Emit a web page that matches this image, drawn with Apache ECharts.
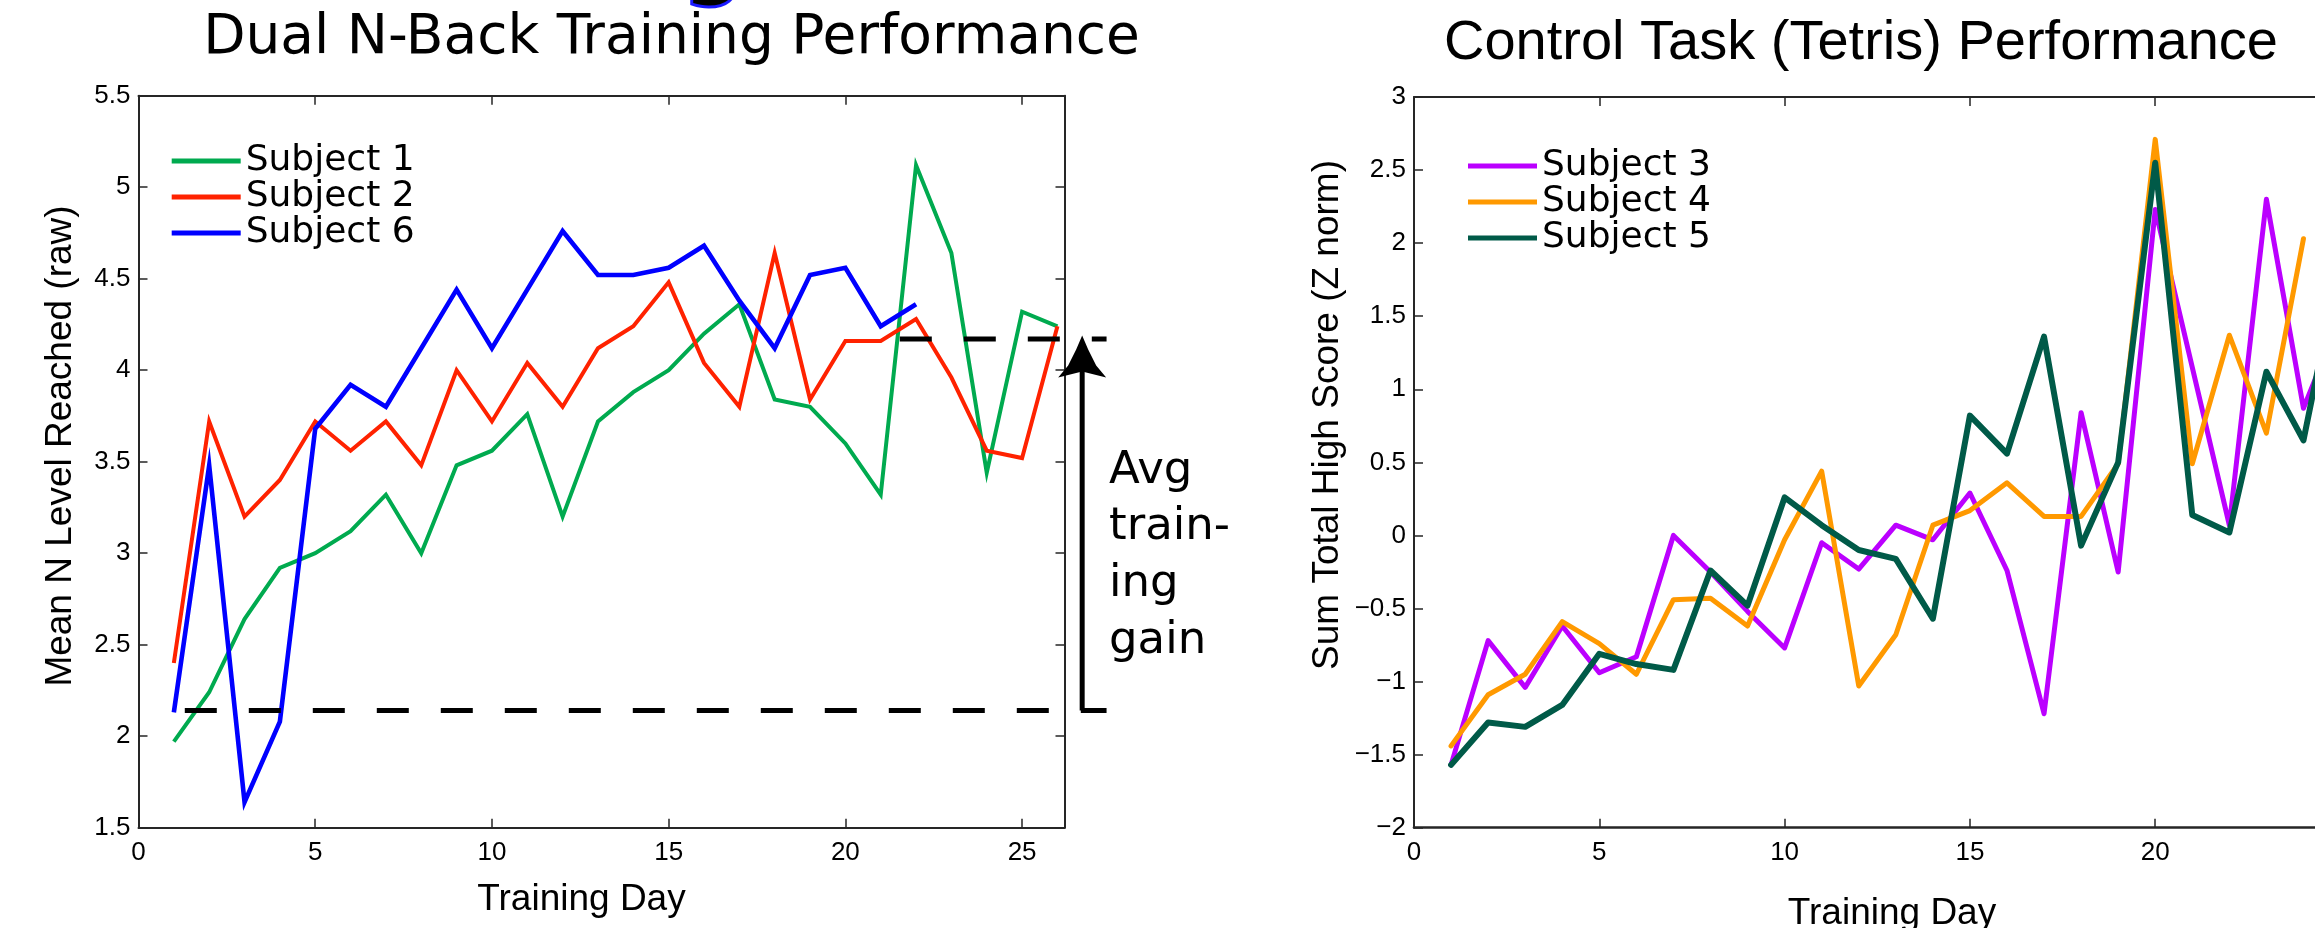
<!DOCTYPE html>
<html>
<head>
<meta charset="utf-8">
<script src="https://cdn.jsdelivr.net/npm/echarts@6/dist/echarts.min.js"></script>
<style>
  html, body { margin: 0; padding: 0; background: #fff; }
  #main { width: 2315px; height: 928px; }
</style>
</head>
<body>
<div id="main"></div>
<script>
// ---- Dual N-Back training: mean N level per training day ----
const nbackDays = [1, 2, 3, 4, 5, 6, 7, 8, 9, 10, 11, 12, 13, 14, 15, 16, 17, 18, 19, 20, 21, 22, 23, 24, 25, 26];
const subject1 = [1.97, 2.24, 2.64, 2.92, 3.00, 3.12, 3.32, 3.00, 3.48, 3.56, 3.76, 3.20, 3.72, 3.88, 4.00, 4.20, 4.36, 3.84, 3.80, 3.60, 3.32, 5.12, 4.64, 3.44, 4.32, 4.24];
const subject2 = [2.40, 3.72, 3.20, 3.40, 3.72, 3.56, 3.72, 3.48, 4.00, 3.72, 4.04, 3.80, 4.12, 4.24, 4.48, 4.04, 3.80, 4.64, 3.84, 4.16, 4.16, 4.28, 3.96, 3.56, 3.52, 4.24];
const subject6 = [2.13, 3.48, 1.64, 2.08, 3.68, 3.92, 3.80, 4.12, 4.44, 4.12, 4.44, 4.76, 4.52, 4.52, 4.56, 4.68, 4.38, 4.12, 4.52, 4.56, 4.24, 4.36];

// Average starting level and average final level (dashed reference lines)
const gainLevels = [2.14, 4.17];

// ---- Control task (Tetris): summed high score, z-normalised ----
const tetrisDays = [1, 2, 3, 4, 5, 6, 7, 8, 9, 10, 11, 12, 13, 14, 15, 16, 17, 18, 19, 20, 21, 22, 23, 24, 25];
const subject3 = [-1.57, -0.72, -1.04, -0.62, -0.94, -0.83, 0.00, -0.25, -0.52, -0.77, -0.05, -0.23, 0.07, -0.03, 0.29, -0.24, -1.22, 0.84, -0.25, 2.23, 1.15, 0.07, 2.30, 0.87, 1.50];
const subject4 = [-1.44, -1.09, -0.95, -0.59, -0.74, -0.95, -0.44, -0.43, -0.62, -0.03, 0.44, -1.03, -0.68, 0.07, 0.17, 0.36, 0.13, 0.13, 0.49, 2.71, 0.49, 1.37, 0.70, 2.03];
const subject5 = [-1.57, -1.28, -1.31, -1.16, -0.81, -0.88, -0.92, -0.24, -0.48, 0.26, 0.07, -0.10, -0.16, -0.57, 0.82, 0.56, 1.36, -0.07, 0.50, 2.55, 0.14, 0.02, 1.12, 0.65, 1.90];

const AXIS_FONT = 'Liberation Sans, Arial, Helvetica, sans-serif';
const TEXT_FONT = 'DejaVu Sans, Verdana, sans-serif';
const AXIS_COLOR = '#262626';

const pairs = (xs, ys) => ys.map((v, i) => [xs[i], v]);
const tickText = v => (Math.abs(v % 5) < 1e-9 ? String(v) : '');
const numText = v => String(v).replace('-', '\u2212');

function boxAxis(gridIndex, dim, pos, range, interval, withLabels, lineWidth) {
  return {
    gridIndex: gridIndex,
    type: 'value',
    position: pos,
    min: range[0],
    max: range[1],
    interval: interval,
    splitLine: { show: false },
    axisLine: { show: true, onZero: false, lineStyle: { color: AXIS_COLOR, width: lineWidth || 2 } },
    axisTick: { show: true, inside: true, length: 9, lineStyle: { color: AXIS_COLOR, width: 1.5 } },
    axisLabel: {
      show: withLabels,
      color: '#000',
      fontFamily: AXIS_FONT,
      fontSize: 26,
      margin: dim === 'x' ? 12 : 8,
      showMaxLabel: dim === 'y',
      formatter: dim === 'x' ? tickText : numText
    }
  };
}

const chart = echarts.init(document.getElementById('main'), null, { renderer: 'canvas' });

const legendText = { fontFamily: TEXT_FONT, fontSize: 36, color: '#000', lineHeight: 31.5 };

const option = {
  animation: false,
  backgroundColor: '#fff',
  grid: [
    { left: 138.5, top: 95.7, width: 926, height: 732, outerBoundsMode: 'none', containLabel: false },
    { left: 1414, top: 97, width: 971, height: 730.7, outerBoundsMode: 'none', containLabel: false }
  ],
  xAxis: [
    boxAxis(0, 'x', 'bottom', [0, 26.2], 5, true),
    boxAxis(0, 'x', 'top', [0, 26.2], 5, false),
    boxAxis(1, 'x', 'bottom', [0, 26.2], 5, true, 2.6),
    boxAxis(1, 'x', 'top', [0, 26.2], 5, false)
  ],
  yAxis: [
    boxAxis(0, 'y', 'left', [1.5, 5.5], 0.5, true),
    boxAxis(0, 'y', 'right', [1.5, 5.5], 0.5, false),
    boxAxis(1, 'y', 'left', [-2, 3], 0.5, true),
    boxAxis(1, 'y', 'right', [-2, 3], 0.5, false)
  ],
  legend: [
    {
      data: ['Subject 1', 'Subject 2', 'Subject 6'],
      orient: 'vertical', left: 171.7, top: 143, padding: 0, itemGap: 0,
      icon: 'rect', itemWidth: 69, itemHeight: 5,
      textStyle: legendText
    },
    {
      data: ['Subject 3', 'Subject 4', 'Subject 5'],
      orient: 'vertical', left: 1468, top: 148, padding: 0, itemGap: 0,
      icon: 'rect', itemWidth: 69, itemHeight: 5,
      textStyle: legendText
    }
  ],
  series: [
    { name: 'Subject 1', data: pairs(nbackDays, subject1), color: '#00aa4f', xAxisIndex: 0, yAxisIndex: 0, width: 4 },
    { name: 'Subject 2', data: pairs(nbackDays, subject2), color: '#ff2200', xAxisIndex: 0, yAxisIndex: 0, width: 4 },
    { name: 'Subject 6', data: pairs(nbackDays, subject6), color: '#0000ff', xAxisIndex: 0, yAxisIndex: 0, width: 4.6 },
    { name: 'Subject 3', data: pairs(tetrisDays, subject3), color: '#bb00ff', xAxisIndex: 2, yAxisIndex: 2, width: 5, round: true },
    { name: 'Subject 4', data: pairs(tetrisDays, subject4), color: '#ff9900', xAxisIndex: 2, yAxisIndex: 2, width: 5, round: true },
    { name: 'Subject 5', data: pairs(tetrisDays, subject5), color: '#005a48', xAxisIndex: 2, yAxisIndex: 2, width: 6, round: true }
  ].map(s => ({
    type: 'line',
    name: s.name,
    data: s.data,
    xAxisIndex: s.xAxisIndex,
    yAxisIndex: s.yAxisIndex,
    symbol: 'none',
    showSymbol: false,
    color: s.color,
    lineStyle: { color: s.color, width: s.width, cap: s.round ? 'round' : 'butt', join: s.round ? 'round' : 'miter' },
    emphasis: { disabled: true }
  }))
};

chart.setOption(option);

// ---- annotation layer: titles, axis names, gain reference lines and arrow ----
const px = p => chart.convertToPixel({ xAxisIndex: 0, yAxisIndex: 0 }, p);
const lowStart = px([1.31, gainLevels[0]]);
const lowEnd = px([27.39, gainLevels[0]]);
const highStart = px([21.54, gainLevels[1]]);
const highEnd = px([27.39, gainLevels[1]]);
const arrowBase = px([26.70, gainLevels[0]]);
const arrowTip = px([26.70, gainLevels[1] + 0.02]);

const ax = arrowTip[0], ay = arrowTip[1];
const headPts = [
  [ax, ay], [ax - 6, ay + 14], [ax - 14, ay + 30], [ax - 24, ay + 42],
  [ax, ay + 36], [ax + 24, ay + 42], [ax + 14, ay + 30], [ax + 6, ay + 14]
];

const dashStyle = { stroke: '#000', lineWidth: 5, lineDash: [32, 32], lineCap: 'butt' };
const label = (text, x, y, font, rotation) => ({
  type: 'text', x: x, y: y, rotation: rotation || 0,
  style: { text: text, font: font, fill: '#000', align: 'center', verticalAlign: 'middle' }
});
const note = (text, y) => ({
  type: 'text', x: 1109, y: y,
  style: { text: text, font: '45px ' + TEXT_FONT, fill: '#000', align: 'left', verticalAlign: 'middle' }
});

chart.setOption({
  graphic: [
    { type: 'text', x: 713, y: -33, style: { text: 'g', font: 'bold 80px ' + TEXT_FONT, fill: '#000', stroke: '#1a1aff', lineWidth: 6, strokeFirst: true, align: 'center', verticalAlign: 'middle' } },
    label('Dual N-Back Training Performance', 671.5, 38.7, '55px ' + TEXT_FONT),
    label('Control Task (Tetris) Performance', 1861, 43.5, '56px ' + AXIS_FONT),
    label('Training Day', 581.5, 900.2, '37px ' + AXIS_FONT),
    label('Training Day', 1892, 913.7, '37px ' + AXIS_FONT),
    label('Mean N Level Reached (raw)', 61, 446, '37px ' + AXIS_FONT, Math.PI / 2),
    label('Sum Total High Score (Z norm)', 1328, 415, '37px ' + AXIS_FONT, Math.PI / 2),
    { type: 'line', shape: { x1: lowStart[0], y1: lowStart[1], x2: lowEnd[0], y2: lowEnd[1] }, style: dashStyle, z: 10 },
    { type: 'line', shape: { x1: highStart[0], y1: highStart[1], x2: highEnd[0], y2: highEnd[1] }, style: dashStyle, z: 10 },
    { type: 'line', shape: { x1: arrowBase[0], y1: arrowBase[1], x2: ax, y2: ay + 30 }, style: { stroke: '#000', lineWidth: 5 }, z: 10 },
    { type: 'polygon', shape: { points: headPts }, style: { fill: '#000' }, z: 10 },
    note('Avg', 471),
    note('train-', 527),
    note('ing', 584),
    note('gain', 641)
  ]
});
</script>
</body>
</html>
